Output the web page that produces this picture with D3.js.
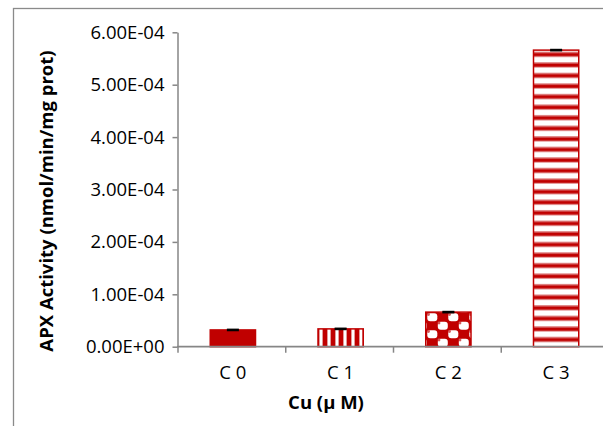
<!DOCTYPE html>
<html>
<head>
<meta charset="utf-8">
<script src="https://cdn.jsdelivr.net/npm/d3@7/dist/d3.min.js"></script>
<style>
  html, body { margin: 0; padding: 0; background: #fff; }
  svg { display: block; }
  text { font-family: "Open Sans", "Liberation Sans", sans-serif; fill: #000; }
</style>
</head>
<body>
<svg id="chart" width="603" height="426"></svg>
<script>
// APX activity for each copper treatment
const categories = ["C 0", "C 1", "C 2", "C 3"];
const apxValues = [3.2e-5, 3.4e-5, 6.6e-5, 5.66e-4];
const apxErrors = [1e-6, 1e-6, 1e-6, 1e-6];
const yTickValues = [0, 1e-4, 2e-4, 3e-4, 4e-4, 5e-4, 6e-4];
const yTickLabels = ["0.00E+00", "1.00E-04", "2.00E-04", "3.00E-04", "4.00E-04", "5.00E-04", "6.00E-04"];
const fillIds = ["solid", "vstripe", "checker", "hstripe"];

const RED = "#C00000";
const AXIS = "#868686";

const svg = d3.select("#chart");
const defs = svg.append("defs");

// vertical stripes
const pv = defs.append("pattern").attr("id", "vstripe")
  .attr("patternUnits", "userSpaceOnUse").attr("width", 8).attr("height", 8);
pv.append("rect").attr("width", 8).attr("height", 8).attr("fill", RED);
pv.append("rect").attr("x", 0).attr("width", 2).attr("height", 8).attr("fill", "#fff");
pv.append("rect").attr("x", 2).attr("width", 1).attr("height", 8).attr("fill", "#e39a9a");
pv.append("rect").attr("x", 7).attr("width", 1).attr("height", 8).attr("fill", "#e39a9a");

// horizontal stripes
const ph = defs.append("pattern").attr("id", "hstripe")
  .attr("patternUnits", "userSpaceOnUse").attr("y", 57.3).attr("width", 8).attr("height", 10.56);
ph.append("rect").attr("width", 8).attr("height", 10.56).attr("fill", RED);
ph.append("rect").attr("y", 0).attr("width", 8).attr("height", 5).attr("fill", "#fff");
ph.append("rect").attr("y", 5).attr("width", 8).attr("height", 1.2).attr("fill", "#e6a3a3");
ph.append("rect").attr("y", 9.4).attr("width", 8).attr("height", 1.16).attr("fill", "#e6a3a3");

// checker of rounded white tiles
const pc = defs.append("pattern").attr("id", "checker")
  .attr("patternUnits", "userSpaceOnUse").attr("x", 427).attr("y", 313).attr("width", 21).attr("height", 17);
pc.append("rect").attr("width", 21).attr("height", 17).attr("fill", RED);
pc.append("rect").attr("x", 0.3).attr("y", 0.3).attr("width", 10).attr("height", 8).attr("rx", 3).attr("fill", "#fff");
pc.append("rect").attr("x", 10.8).attr("y", 8.8).attr("width", 10).attr("height", 8).attr("rx", 3).attr("fill", "#fff");
pc.append("circle").attr("cx", 1.5).attr("cy", 1.5).attr("r", 1.4).attr("fill", "#d45a5a");
pc.append("circle").attr("cx", 12).attr("cy", 10).attr("r", 1.4).attr("fill", "#d45a5a");

// chart frame
svg.append("rect")
  .attr("x", 13.5).attr("y", 8.5).attr("width", 700).attr("height", 500)
  .attr("fill", "none").attr("stroke", "#8a8a8a").attr("stroke-width", 1.3);

const x = d3.scaleBand().domain(categories).range([179, 610])
  .paddingInner(0.58).paddingOuter(0.29);
const y = d3.scaleLinear().domain([0, 6e-4]).range([346.7, 32.3]);

// bars
svg.append("g").selectAll("rect").data(categories).join("rect")
  .attr("x", d => x(d))
  .attr("y", (d, i) => y(apxValues[i]))
  .attr("width", x.bandwidth())
  .attr("height", (d, i) => y(0) - y(apxValues[i]))
  .attr("fill", (d, i) => fillIds[i] === "solid" ? RED : `url(#${fillIds[i]})`)
  .attr("stroke", RED).attr("stroke-width", 1.5);

// error bars
const eb = svg.append("g").attr("stroke", "#000").attr("stroke-width", 1.6);
categories.forEach((c, i) => {
  const cx = x(c) + x.bandwidth() / 2;
  const hi = y(apxValues[i] + apxErrors[i]);
  const lo = y(apxValues[i] - apxErrors[i]);
  eb.append("line").attr("x1", cx).attr("x2", cx).attr("y1", hi).attr("y2", lo);
  eb.append("line").attr("x1", cx - 6).attr("x2", cx + 6).attr("y1", hi).attr("y2", hi);
  eb.append("line").attr("x1", cx - 6).attr("x2", cx + 6).attr("y1", lo).attr("y2", lo);
});

// y axis
const yAxis = svg.append("g").attr("transform", "translate(177.5,0)")
  .call(d3.axisLeft(y).tickValues(yTickValues)
    .tickFormat((d, i) => yTickLabels[i]).tickSize(5).tickPadding(8).tickSizeOuter(0));
yAxis.select(".domain").attr("stroke", AXIS).attr("stroke-width", 1.5);
yAxis.selectAll(".tick line").attr("stroke", AXIS).attr("stroke-width", 1.5);
yAxis.selectAll(".tick text").attr("font-size", 18.5).attr("font-family", "Open Sans");

// x axis with ticks at category boundaries
const xAxis = svg.append("g").attr("transform", `translate(0,${y(0)})`)
  .call(d3.axisBottom(x).tickSize(0).tickPadding(19));
xAxis.select(".domain").remove();
xAxis.append("line").attr("x1", 177).attr("x2", 610).attr("y1", 0).attr("y2", 0)
  .attr("stroke", AXIS).attr("stroke-width", 1.8);
const step = x.step();
d3.range(categories.length + 1).forEach(k => {
  const bx = x.range()[0] + k * step - 1;
  xAxis.append("line").attr("x1", bx).attr("x2", bx).attr("y1", 0).attr("y2", 6)
    .attr("stroke", AXIS).attr("stroke-width", 1.5);
});
xAxis.selectAll(".tick text").attr("font-size", 18.5).attr("font-family", "Open Sans");

// axis titles
svg.append("text")
  .attr("x", 326).attr("y", 409)
  .attr("text-anchor", "middle")
  .attr("font-size", 18.5).attr("font-weight", "bold")
  .text("Cu (µ M)");

svg.append("text")
  .attr("transform", "translate(53,201) rotate(-90)")
  .attr("text-anchor", "middle")
  .attr("font-size", 18.5).attr("font-weight", "bold")
  .text("APX Activity (nmol/min/mg prot)");
</script>
</body>
</html>
